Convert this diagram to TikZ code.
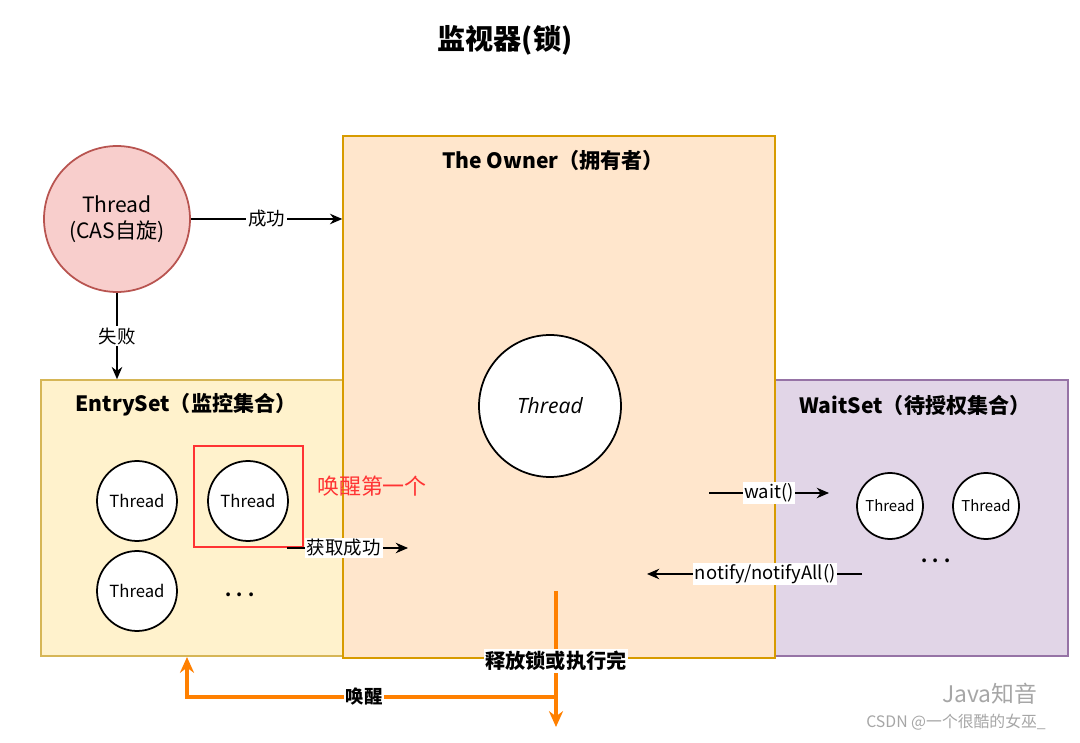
\documentclass[tikz,border=0pt]{standalone}
\usepackage{fontspec}
\setmainfont{Noto Sans CJK SC}
\newfontfamily\latinsf{Open Sans}
\usepackage{xcolor}
\usepackage{tikz}
\usetikzlibrary{positioning,arrows.meta}

\definecolor{ownerfill}{HTML}{FFE6CC}
\definecolor{ownerline}{HTML}{D79B00}
\definecolor{entryfill}{HTML}{FFF2CC}
\definecolor{entryline}{HTML}{D6B656}
\definecolor{waitfill}{HTML}{E1D5E7}
\definecolor{waitline}{HTML}{9673A6}
\definecolor{casfill}{HTML}{F8CECC}
\definecolor{casline}{HTML}{B85450}
\definecolor{wakeorange}{HTML}{FF8000}
\definecolor{markred}{HTML}{FF3333}

\begin{document}
\begin{tikzpicture}[x=0.02cm,y=-0.02cm,
            setbox/.style={rectangle,draw,line width=0.9pt,inner sep=0pt},
            settitle/.style={font=\bfseries\fontsize{12}{14}\selectfont},
            thr/.style={circle,draw,fill=white,line width=1pt,inner sep=0pt,minimum size=1.6cm,font=\fontsize{9.5}{11}\selectfont},
            wthr/.style={thr,minimum size=1.32cm,font=\fontsize{8.5}{10}\selectfont},
            dots/.style={font=\bfseries\fontsize{10}{12}\selectfont},
            lbl/.style={fill=white,inner sep=1pt,font=\fontsize{10.5}{12}\selectfont},
            arrow/.style={-{Stealth[length=7pt,width=6pt]},line width=0.8pt},
            oarrow/.style={-{Stealth[length=9pt,width=8pt]},line width=1.9pt,draw=wakeorange}]
            \useasboundingbox (0,0) rectangle (1080,743);
            % title
            \node[font=\bfseries\fontsize{16}{18}\selectfont] (title) at (505,40) {监视器(锁)};
            % the three sets
            \node[setbox,fill=entryfill,draw=entryline,minimum width=6.04cm,minimum height=5.52cm] (entry) at (192,518) {};
            \node[setbox,fill=waitfill,draw=waitline,minimum width=5.86cm,minimum height=5.52cm] (wait) at (921.5,518) {};
            \node[setbox,fill=ownerfill,draw=ownerline,minimum width=8.64cm,minimum height=10.44cm] (owner) at (559,397) {};
            \node[settitle] (ownerT) at (553,160) {The Owner（拥有者）};
            \node[settitle] (entryT) at (186,405) {EntrySet（监控集合）};
            \node[settitle] (waitT) at (915,405) {WaitSet（待授权集合）};
            % threads
            \node[thr,fill=casfill,draw=casline,minimum size=2.92cm,align=center,font=\fontsize{12}{15}\selectfont] (cas) at (117,219) {Thread\\(CAS自旋)};
            \node[thr,minimum size=2.84cm,font=\latinsf\itshape\fontsize{12}{14}\selectfont] (own) at (550,406) {Thread};
            \node[thr] (e1) at (137,501) {Thread};
            \node[thr] (e2) at (248,501) {Thread};
            \node[thr] (e3) at (137,591) {Thread};
            \node[dots] (edots) at (240,595) {. . .};
            \node[wthr] (w1) at (890,506) {Thread};
            \node[wthr] (w2) at (986,506) {Thread};
            \node[dots] (wdots) at (936,561) {. . .};
            % first one woken
            \node[draw=markred,line width=1pt,minimum width=2.18cm,minimum height=2.02cm] (hl) at (248.5,496.5) {};
            \node[text=markred,font=\fontsize{12.5}{14}\selectfont] (hlT) at (372,486) {唤醒第一个};
            % connectors
            \coordinate (gs1) at (287,548);
            \coordinate (gs2) at (408,548);
            \coordinate (wa1) at (709,493);
            \coordinate (wa2) at (829,493);
            \coordinate (nt1) at (862,574);
            \coordinate (nt2) at (647,574);
            \coordinate (rl1) at (556,591);
            \coordinate (rl2) at (556,727);
            \coordinate (rl3) at (556,697);
            \coordinate (wk) at (187,657);
            \draw[arrow] (cas.east) -- (cas.east -| owner.west) node[lbl,midway] {成功};
            \draw[arrow] (cas.south) -- (cas.south |- entry.north) node[lbl,midway] {失败};
            \draw[arrow] (gs1) -- (gs2) node[lbl,pos=0.47] {获取成功};
            \draw[arrow] (wa1) -- (wa2) node[lbl,midway] {wait()};
            \draw[arrow] (nt1) -- (nt2) node[lbl,pos=0.45] {notify/notifyAll()};
            \draw[oarrow] (rl1) -- (rl2);
            \node[lbl,font=\bfseries\fontsize{11.5}{13}\selectfont] (rlT) at (556,661) {释放锁或执行完};
            \draw[oarrow] (rl3) -| (wk) node[lbl,pos=0.26,font=\bfseries\fontsize{10.5}{12}\selectfont] {唤醒};
            % watermark
            \node[text=black!35,font=\fontsize{13}{15}\selectfont] (wm1) at (990,694) {Java知音};
            \node[text=black!35,font=\fontsize{9}{11}\selectfont] (wm2) at (956,722) {CSDN @一个很酷的女巫\_};
        \end{tikzpicture}
\end{document}
